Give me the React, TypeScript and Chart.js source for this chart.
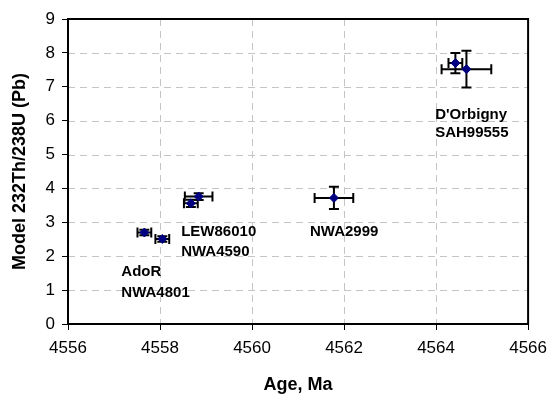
import React, { useEffect, useRef } from 'react';
import { Chart, registerables } from 'chart.js';

Chart.register(...registerables);

const ages = [4557.66, 4558.05, 4558.67, 4558.84, 4561.78, 4564.42, 4564.66];
const ratios = [2.7, 2.51, 3.56, 3.76, 3.72, 7.7, 7.52];
const ageErr = [0.15, 0.15, 0.15, 0.3, 0.42, 0.15, 0.54];
const ratioErr = [0.08, 0.08, 0.11, 0.1, 0.33, 0.3, 0.54];

const labelLines = ['AdoR', 'NWA4801', 'LEW86010', 'NWA4590', 'NWA2999', "D'Orbigny", 'SAH99555'];
const labelAges = [4557.16, 4557.16, 4558.46, 4558.46, 4561.26, 4563.98, 4563.98];
const labelRatios = [1.43, 0.81, 2.61, 2.02, 2.61, 6.05, 5.53];

const xMin = 4556;
const xMax = 4566;
const xStep = 2;
const yMin = 0;
const yMax = 9;
const yStep = 1;

const FONT = '"Liberation Sans", Arial, Helvetica, sans-serif';

const errorBarPlugin = {
  id: 'errorBars',
  beforeDatasetsDraw(chart: any) {
    const { ctx, scales, chartArea } = chart;
    const xs = scales.x;
    const ys = scales.y;
    // dashed grid
    ctx.save();
    ctx.strokeStyle = '#c4c4c4';
    ctx.lineWidth = 1;
    ctx.setLineDash([7, 5]);
    ctx.beginPath();
    xs.ticks.forEach((t: any) => {
      if (t.value === xMin || t.value === xMax) return;
      const px = Math.round(xs.getPixelForValue(t.value)) + 0.5;
      ctx.moveTo(px, chartArea.top);
      ctx.lineTo(px, chartArea.bottom);
    });
    ys.ticks.forEach((t: any) => {
      if (t.value === yMin || t.value === yMax) return;
      const py = Math.round(ys.getPixelForValue(t.value)) + 0.5;
      ctx.moveTo(chartArea.left, py);
      ctx.lineTo(chartArea.right, py);
    });
    ctx.stroke();
    ctx.restore();

    const cap = 5;
    ctx.save();
    ctx.strokeStyle = '#000';
    ctx.lineWidth = 2;
    for (let i = 0; i < ages.length; i++) {
      const cx = xs.getPixelForValue(ages[i]);
      const cy = ys.getPixelForValue(ratios[i]);
      const x1 = xs.getPixelForValue(ages[i] - ageErr[i]);
      const x2 = xs.getPixelForValue(ages[i] + ageErr[i]);
      const y1 = ys.getPixelForValue(ratios[i] - ratioErr[i]);
      const y2 = ys.getPixelForValue(ratios[i] + ratioErr[i]);
      ctx.beginPath();
      ctx.moveTo(x1, cy); ctx.lineTo(x2, cy);
      ctx.moveTo(x1, cy - cap); ctx.lineTo(x1, cy + cap);
      ctx.moveTo(x2, cy - cap); ctx.lineTo(x2, cy + cap);
      ctx.moveTo(cx, y1); ctx.lineTo(cx, y2);
      ctx.moveTo(cx - cap, y1); ctx.lineTo(cx + cap, y1);
      ctx.moveTo(cx - cap, y2); ctx.lineTo(cx + cap, y2);
      ctx.stroke();
    }
    ctx.restore();
  },
  afterDatasetsDraw(chart: any) {
    const { ctx, scales, chartArea } = chart;
    ctx.save();
    ctx.font = `bold 15px ${FONT}`;
    ctx.fillStyle = '#000';
    ctx.textAlign = 'left';
    ctx.textBaseline = 'alphabetic';
    for (let i = 0; i < labelLines.length; i++) {
      ctx.fillText(
        labelLines[i],
        scales.x.getPixelForValue(labelAges[i]),
        scales.y.getPixelForValue(labelRatios[i])
      );
    }
    ctx.strokeStyle = '#000';
    ctx.lineWidth = 2;
    ctx.strokeRect(chartArea.left, chartArea.top, chartArea.right - chartArea.left, chartArea.bottom - chartArea.top);
    ctx.restore();
  },
};

export default function App() {
  const ref = useRef<HTMLCanvasElement | null>(null);
  useEffect(() => {
    document.body.style.margin = '0';
    const canvas = ref.current;
    if (!canvas) return;
    const chart = new Chart(canvas, {
      type: 'scatter',
      data: {
        datasets: [
          {
            data: ages.map((a, i) => ({ x: a, y: ratios[i] })),
            pointStyle: 'rectRot',
            pointRadius: 4.5,
            pointHoverRadius: 4.5,
            backgroundColor: '#000080',
            borderColor: '#000080',
            borderWidth: 1,
          },
        ],
      },
      options: {
        responsive: false,
        animation: false,
        layout: { padding: { top: 19, right: 23, left: 0, bottom: 0 } },
        plugins: { legend: { display: false }, tooltip: { enabled: false }, title: { display: false } },
        scales: {
          x: {
            type: 'linear',
            min: xMin,
            max: xMax,
            ticks: {
              stepSize: xStep,
              color: '#000',
              font: { family: FONT, size: 17 },
              padding: 8,
              maxRotation: 0,
              callback: (v: any) => String(v),
            },
            grid: {
              drawOnChartArea: false,
              color: '#000',
              lineWidth: 1,
              tickColor: '#000',
              tickLength: 6,
              tickWidth: 1,
            },
            border: { display: false },
            title: {
              display: true,
              text: 'Age, Ma',
              color: '#000',
              font: { family: FONT, size: 18, weight: 'bold' },
              padding: { top: 6, bottom: 0 },
            },
            afterFit: (s: any) => { s.height = 72; },
          },
          y: {
            type: 'linear',
            min: yMin,
            max: yMax,
            ticks: {
              stepSize: yStep,
              color: '#000',
              font: { family: FONT, size: 17 },
              padding: 7,
            },
            grid: {
              drawOnChartArea: false,
              color: '#000',
              lineWidth: 1,
              tickColor: '#000',
              tickLength: 6,
              tickWidth: 1,
            },
            border: { display: false },
            title: {
              display: true,
              text: 'Model 232Th/238U (Pb)',
              color: '#000',
              font: { family: FONT, size: 18, weight: 'bold' },
              padding: { top: 9, bottom: 0 },
            },
            afterFit: (s: any) => { s.width = 68; },
          },
        },
      },
      plugins: [errorBarPlugin],
    } as any);
    return () => chart.destroy();
  }, []);
  return <canvas ref={ref} width={555} height={396} style={{ display: 'block' }} />;
}
